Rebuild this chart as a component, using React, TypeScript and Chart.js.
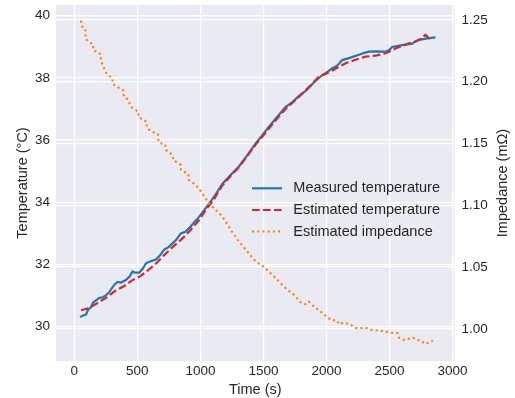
import React, { useEffect, useRef } from "react";
import { Chart, registerables } from "chart.js";

Chart.register(...registerables);

// ---- Data ----
const measuredTime = [45, 70, 93, 110, 130, 150, 172, 200, 225, 251, 275, 300, 320, 343, 370, 409, 440, 462, 480, 515, 545, 568, 600, 647, 680, 713, 745, 779, 810, 845, 880, 911, 950, 990, 1030, 1069, 1120, 1175, 1240, 1307, 1370, 1439, 1490, 1544, 1610, 1677, 1730, 1782, 1835, 1900, 1967, 2010, 2046, 2080, 2099, 2125, 2190, 2257, 2300, 2336, 2400, 2468, 2500, 2521, 2600, 2679, 2700, 2732, 2800, 2864];
const measuredTemp = [30.31, 30.36, 30.39, 30.55, 30.62, 30.78, 30.85, 30.93, 30.95, 31.01, 31.1, 31.25, 31.36, 31.44, 31.42, 31.5, 31.62, 31.78, 31.74, 31.74, 31.88, 32.04, 32.1, 32.16, 32.3, 32.48, 32.55, 32.68, 32.8, 33.0, 33.05, 33.17, 33.35, 33.53, 33.75, 33.96, 34.25, 34.6, 34.88, 35.16, 35.5, 35.89, 36.15, 36.43, 36.75, 37.07, 37.22, 37.42, 37.58, 37.85, 38.09, 38.2, 38.31, 38.38, 38.45, 38.57, 38.65, 38.74, 38.8, 38.84, 38.85, 38.84, 38.9, 38.99, 39.05, 39.1, 39.16, 39.22, 39.27, 39.3];

const estimatedTime = [53, 100, 150, 198, 260, 330, 400, 462, 520, 568, 610, 660, 700, 752, 800, 858, 920, 990, 1050, 1100, 1170, 1240, 1300, 1370, 1440, 1500, 1550, 1620, 1680, 1730, 1782, 1860, 1940, 2000, 2040, 2100, 2152, 2230, 2310, 2400, 2468, 2510, 2550, 2600, 2653, 2700, 2750, 2785, 2810, 2838];
const estimatedTemp = [30.53, 30.58, 30.68, 30.8, 30.95, 31.17, 31.32, 31.5, 31.62, 31.76, 31.9, 32.08, 32.25, 32.46, 32.63, 32.84, 33.1, 33.43, 33.8, 34.05, 34.52, 34.85, 35.1, 35.48, 35.87, 36.15, 36.4, 36.75, 37.02, 37.2, 37.39, 37.7, 38.04, 38.14, 38.22, 38.36, 38.47, 38.58, 38.68, 38.72, 38.79, 38.86, 38.95, 39.02, 39.11, 39.15, 39.25, 39.38, 39.28, 39.27];

const impedanceTime = [53, 60, 87, 88, 92, 120, 150, 151, 180, 211, 212, 224, 251, 303, 304, 364, 391, 392, 422, 454, 509, 510, 573, 575, 600, 663, 664, 681, 721, 726, 779, 785, 845, 846, 905, 906, 964, 1016, 1063, 1120, 1175, 1241, 1307, 1373, 1439, 1505, 1584, 1663, 1742, 1795, 1835, 1860, 1901, 1953, 1967, 2033, 2085, 2099, 2133, 2180, 2236, 2323, 2358, 2442, 2516, 2564, 2577, 2611, 2650, 2688, 2719, 2754, 2780, 2811, 2843];
const impedanceValue = [1.2494, 1.2451, 1.2433, 1.2387, 1.2344, 1.232, 1.2303, 1.2257, 1.224, 1.2222, 1.2176, 1.2136, 1.2074, 1.2025, 1.1982, 1.1944, 1.1928, 1.188, 1.1858, 1.1794, 1.1756, 1.1713, 1.1677, 1.1632, 1.1605, 1.1575, 1.1535, 1.1502, 1.1494, 1.1448, 1.1408, 1.1367, 1.1327, 1.1286, 1.1252, 1.1206, 1.1165, 1.1098, 1.102, 1.0965, 1.0909, 1.0801, 1.0706, 1.0625, 1.0545, 1.05, 1.0423, 1.0342, 1.0275, 1.0215, 1.02, 1.0221, 1.018, 1.014, 1.0127, 1.0073, 1.0067, 1.0038, 1.0051, 1.004, 1.0006, 1.0006, 0.9992, 0.9984, 0.9968, 0.9965, 0.9925, 0.9911, 0.992, 0.9927, 0.9911, 0.9905, 0.9879, 0.9889, 0.9905];

const xTicks = [0, 500, 1000, 1500, 2000, 2500, 3000];
const tempTicks = [30, 32, 34, 36, 38, 40];
const impTicks = [1.0, 1.05, 1.1, 1.15, 1.2, 1.25];

const seriesLabels = ["Measured temperature", "Estimated temperature", "Estimated impedance"];
const xTitle = "Time (s)";
const yTitle = "Temperature (°C)";
const y1Title = "Impedance (mΩ)";

// ---- Styles ----
const FONT = "'Liberation Sans', Arial, sans-serif";
const TEXT = "#262626";
const BLUE = "#1f77b4";
const RED = "#d62728";
const ORANGE = "#ff7f0e";
const BG = "#EAEAF2";

const zip = (xs: number[], ys: number[]) => xs.map((x, i) => ({ x, y: ys[i] }));

const fixBox = (w: number | null, h: number | null) => (s: any) => {
  if (w !== null) s.width = w;
  if (h !== null) s.height = h;
  s.paddingTop = 0;
  s.paddingBottom = 0;
  s.paddingLeft = 0;
  s.paddingRight = 0;
};

export default function App() {
  const ref = useRef<HTMLCanvasElement | null>(null);

  useEffect(() => {
    if (!ref.current) return;
    const styles = [
      { color: BLUE, dash: [] as number[], width: 2.2 },
      { color: RED, dash: [7.7, 3.3], width: 2.2 },
      { color: ORANGE, dash: [2.1, 3.1], width: 2.1 },
    ];

    const decor = {
      id: "decor",
      beforeDraw(chart: any) {
        const { ctx, chartArea: a } = chart;
        ctx.save();
        ctx.fillStyle = BG;
        ctx.fillRect(a.left, a.top, a.right - a.left, a.bottom - a.top);
        ctx.restore();
      },
      afterDraw(chart: any) {
        const { ctx, chartArea: a } = chart;
        ctx.save();
        ctx.fillStyle = TEXT;
        ctx.font = `14.5px ${FONT}`;
        ctx.textBaseline = "alphabetic";
        ctx.textAlign = "center";
        const cy = (a.top + a.bottom) / 2;
        ctx.fillText(xTitle, (a.left + a.right) / 2, 393.5);
        ctx.save();
        ctx.translate(26.5, cy);
        ctx.rotate(-Math.PI / 2);
        ctx.fillText(yTitle, 0, 0);
        ctx.restore();
        ctx.save();
        ctx.translate(506.5, cy);
        ctx.rotate(-Math.PI / 2);
        ctx.fillText(y1Title, 0, 0);
        ctx.restore();

        const rows = [188.3, 210, 231.5];
        ctx.textAlign = "left";
        ctx.textBaseline = "middle";
        rows.forEach((ry, i) => {
          const s = styles[i];
          ctx.save();
          ctx.strokeStyle = s.color;
          ctx.lineWidth = s.width;
          ctx.setLineDash(s.dash);
          ctx.beginPath();
          ctx.moveTo(252, ry);
          ctx.lineTo(282, ry);
          ctx.stroke();
          ctx.restore();
          ctx.fillStyle = TEXT;
          ctx.fillText(seriesLabels[i], 293.3, ry);
        });
        ctx.restore();
      },
    };

    const tickFont = { family: FONT, size: 13.5 };
    const grid = { color: "#ffffff", lineWidth: 1.2, drawTicks: false };

    const chart = new Chart(ref.current, {
      type: "line",
      data: {
        datasets: [
          {
            label: seriesLabels[0],
            data: zip(measuredTime, measuredTemp),
            borderColor: BLUE,
            borderWidth: styles[0].width,
            pointRadius: 0,
            tension: 0,
            yAxisID: "y",
            order: 2,
          },
          {
            label: seriesLabels[1],
            data: zip(estimatedTime, estimatedTemp),
            borderColor: RED,
            borderWidth: styles[1].width,
            borderDash: styles[1].dash,
            pointRadius: 0,
            tension: 0,
            yAxisID: "y",
            order: 1,
          },
          {
            label: seriesLabels[2],
            data: zip(impedanceTime, impedanceValue),
            borderColor: ORANGE,
            borderWidth: styles[2].width,
            borderDash: styles[2].dash,
            pointRadius: 0,
            tension: 0,
            yAxisID: "y1",
            order: 0,
          },
        ],
      },
      options: {
        responsive: false,
        animation: false,
        layout: { padding: { top: 5, left: 0, right: 0, bottom: 0 } },
        plugins: { legend: { display: false }, tooltip: { enabled: false } },
        scales: {
          x: {
            type: "linear",
            min: -145,
            max: 3015,
            afterBuildTicks: (s: any) => {
              s.ticks = xTicks.map((v) => ({ value: v }));
            },
            afterFit: fixBox(null, 37),
            grid,
            border: { display: false },
            ticks: {
              color: TEXT,
              font: tickFont,
              padding: 2,
              maxRotation: 0,
              autoSkip: false,
              callback: (v: any) => String(v),
            },
          },
          y: {
            type: "linear",
            position: "left",
            min: 28.9,
            max: 40.34,
            afterBuildTicks: (s: any) => {
              s.ticks = tempTicks.map((v) => ({ value: v }));
            },
            afterFit: fixBox(56, null),
            grid,
            border: { display: false },
            ticks: { color: TEXT, font: tickFont, padding: 6, autoSkip: false, callback: (v: any) => String(v) },
          },
          y1: {
            type: "linear",
            position: "right",
            min: 0.974,
            max: 1.2621,
            afterBuildTicks: (s: any) => {
              s.ticks = impTicks.map((v) => ({ value: v }));
            },
            afterFit: fixBox(60.5, null),
            grid,
            border: { display: false },
            ticks: {
              color: TEXT,
              font: tickFont,
              padding: 7,
              autoSkip: false,
              callback: (v: any) => Number(v).toFixed(2),
            },
          },
        },
      },
      plugins: [decor],
    } as any);

    return () => chart.destroy();
  }, []);

  return (
    <div style={{ position: "absolute", left: 0, top: 0, width: 515, height: 398, background: "#fff" }}>
      <canvas ref={ref} width={515} height={398} style={{ display: "block" }} />
    </div>
  );
}
